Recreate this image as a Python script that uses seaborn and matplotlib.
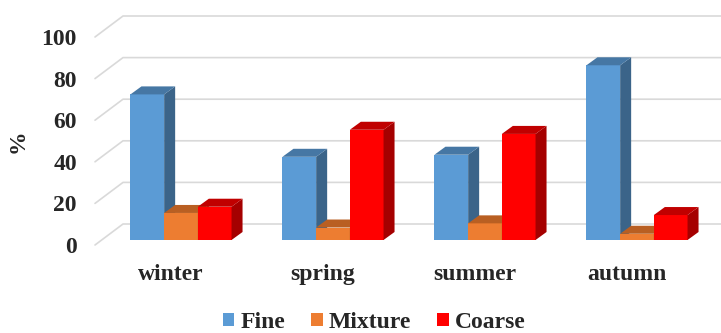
import matplotlib
matplotlib.use("Agg")
import matplotlib.pyplot as plt
from matplotlib.patches import Polygon, Rectangle
import seaborn as sns
import pandas as pd

seasons = ["winter", "spring", "summer", "autumn"]
fractions = ["Fine", "Mixture", "Coarse"]
fine = [70, 40, 41, 84]
mixture = [13, 6, 8, 3]
coarse = [16, 53, 51, 12]
y_ticks = [0, 20, 40, 60, 80, 100]

front_colors = {"Fine": "#5B9BD5", "Mixture": "#ED7D31", "Coarse": "#FF0000"}
side_colors = {"Fine": "#3B6489", "Mixture": "#A9561F", "Coarse": "#A50000"}
top_colors = {"Fine": "#4677A4", "Mixture": "#B95F22", "Coarse": "#C00000"}

df = pd.DataFrame({
    "season": seasons * 3,
    "fraction": [f for f in fractions for _ in seasons],
    "value": fine + mixture + coarse,
})

sns.set_theme(style="white")
plt.rcParams["font.family"] = ["Liberation Serif", "DejaVu Serif"]
plt.rcParams["font.weight"] = "bold"
FS = 17

W, H = 721, 333
fig = plt.figure(figsize=(W / 100, H / 100), dpi=100)
ax = fig.add_axes([95 / W, (H - 245) / H, 608 / W, 208 / H])
ax.set_xlim(-0.5, 3.5)
ax.set_ylim(0, 100)

# pixel -> data conversions for the pseudo-3D depth
px_x = 608 / 4.0
px_y = 208 / 100.0
wall_dx, wall_dy = 28 / px_x, 21 / px_y      # front plane -> back wall
bar_ox, bar_oy = 10 / px_x, 5 / px_y          # front plane -> bar front face
bar_dx, bar_dy = 11 / px_x, 8 / px_y          # bar depth

grid_c = "#D9D9D9"
for v in y_ticks:
    ax.plot([-0.5, -0.5 + wall_dx, 4.5], [v, v + wall_dy, v + wall_dy],
            color=grid_c, lw=1.2, clip_on=False, zorder=0.5)

sns.barplot(data=df, x="season", y="value", hue="fraction",
            hue_order=fractions, order=seasons, palette=front_colors,
            width=0.665, ax=ax, legend=False, saturation=1, errorbar=None)

bars = sorted(ax.patches, key=lambda p: p.get_x())

# map each patch to its fraction by its facecolor
col_to_frac = {matplotlib.colors.to_hex(c): f for f, c in front_colors.items()}
z = 2
for p in bars:
    frac = col_to_frac.get(matplotlib.colors.to_hex(p.get_facecolor()))
    if frac is None:
        continue
    x, w, h = p.get_x(), p.get_width(), p.get_height()
    x0 = x + bar_ox
    y0 = bar_oy
    p.set_x(x0)
    p.set_y(y0)
    p.set_clip_on(False)
    p.set_zorder(z)
    p.set_edgecolor("none")
    side = Polygon([(x0 + w, y0), (x0 + w + bar_dx, y0 + bar_dy),
                    (x0 + w + bar_dx, y0 + h + bar_dy), (x0 + w, y0 + h)],
                   closed=True, facecolor=side_colors[frac], edgecolor="none",
                   clip_on=False, zorder=z + 0.1)
    top = Polygon([(x0, y0 + h), (x0 + bar_dx, y0 + h + bar_dy),
                   (x0 + w + bar_dx, y0 + h + bar_dy), (x0 + w, y0 + h)],
                  closed=True, facecolor=top_colors[frac], edgecolor="none",
                  clip_on=False, zorder=z + 0.2)
    ax.add_patch(side)
    ax.add_patch(top)
    z += 1

for s in ax.spines.values():
    s.set_visible(False)
ax.set_yticks(y_ticks)
ax.set_yticklabels([str(t) for t in y_ticks])
ax.tick_params(axis="y", length=0, pad=13, labelsize=FS)
ax.tick_params(axis="x", length=0, pad=14, labelsize=FS)
for lab in ax.get_xticklabels() + ax.get_yticklabels():
    lab.set_fontweight("bold")
ax.set_xlabel("")
ax.set_ylabel("%", fontsize=FS, fontweight="bold", labelpad=9)
ax.grid(False)

leg_handles = [Rectangle((0, 0), 1, 1, facecolor=front_colors[f], edgecolor="none")
               for f in fractions]
fig.legend(leg_handles, fractions, loc="center", bbox_to_anchor=(374 / W, 10.5 / H),
           ncol=3, frameon=False, handlelength=0.5, handleheight=0.5,
           handletextpad=0.25, columnspacing=1.1,
           prop={"size": FS, "weight": "bold"})

fig.savefig("out.png", dpi=100)
